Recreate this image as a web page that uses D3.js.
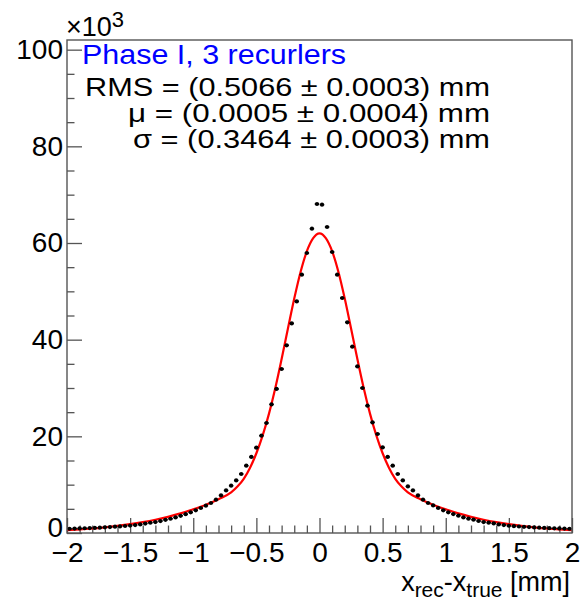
<!DOCTYPE html>
<html>
<head>
<meta charset="utf-8">
<script src="https://cdnjs.cloudflare.com/ajax/libs/d3/7.8.5/d3.min.js"></script>
<style>
body { margin: 0; background: #fff; }
text { font-family: "Liberation Sans", Arial, Helvetica, sans-serif; }
</style>
</head>
<body>
<div id="chart"></div>
<script>
// histogram: 100 bins over [-2, 2], counts in units of 10^3
const binLow = -2;
const binWidth = 0.04;
const counts = [
    0.88, 0.92, 0.95, 0.98, 1.02, 1.06, 1.11, 1.17, 1.23, 1.30,
    1.37, 1.45, 1.53, 1.65, 1.78, 1.96, 2.12, 2.27, 2.47, 2.72,
    2.95, 3.22, 3.56, 3.90, 4.27, 4.70,
    5.17, 5.65, 6.21, 6.89, 7.78, 8.81, 9.79, 10.88, 12.21, 13.93,
    15.73, 17.65, 20.13, 22.76, 26.61, 29.80, 33.93, 38.82, 43.37, 47.92,
    53.44, 57.93, 62.96, 68.07,
    67.93, 63.31, 58.14, 53.44, 48.62, 43.58, 38.55, 34.47, 30.00, 26.34,
    22.88, 20.48, 17.71, 15.73, 13.93, 12.21, 10.88, 9.64, 8.81, 7.78,
    6.89, 6.21, 5.71, 5.17,
    4.70, 4.27, 3.92, 3.58, 3.23, 2.96, 2.75, 2.48, 2.27, 2.13,
    1.99, 1.78, 1.65, 1.50, 1.42, 1.35, 1.28, 1.22, 1.16, 1.10,
    1.05, 1.00, 0.97, 0.94, 0.91, 0.88
];

// fitted curve
const fitX = [-2, -1.9, -1.8, -1.7, -1.6, -1.5, -1.4, -1.3, -1.2, -1.1, -1.0, -0.9, -0.8, -0.7,
    -0.65, -0.6, -0.55, -0.5, -0.45, -0.4, -0.35, -0.3, -0.25, -0.2, -0.15, -0.1, -0.05, 0,
    0.05, 0.1, 0.15, 0.2, 0.25, 0.3, 0.35, 0.4, 0.45, 0.5, 0.55, 0.6, 0.65,
    0.7, 0.8, 0.9, 1.0, 1.1, 1.2, 1.3, 1.4, 1.5, 1.6, 1.7, 1.8, 1.9, 2];
const fitY = [0.57, 0.73, 0.93, 1.18, 1.48, 1.83, 2.25, 2.75, 3.35, 4.05, 4.9, 5.85, 7.0, 8.4,
    9.6, 11.2, 13.5, 16.5, 20.2, 24.7, 30.0, 36.0, 42.3, 48.5, 54.0, 58.3, 61.0, 62.0,
    61.0, 58.3, 54.0, 48.5, 42.3, 36.0, 30.0, 24.7, 20.2, 16.5, 13.5, 11.2, 9.6,
    8.4, 7.0, 5.85, 4.9, 4.05, 3.35, 2.75, 2.25, 1.83, 1.48, 1.18, 0.93, 0.73, 0.57];

const xMajor = [-2, -1.5, -1, -0.5, 0, 0.5, 1, 1.5, 2];
const xLabels = ['\u22122', '\u22121.5', '\u22121', '\u22120.5', '0', '0.5', '1', '1.5', '2'];
const yMajor = [0, 20, 40, 60, 80, 100];
const yLabels = ['0', '20', '40', '60', '80', '100'];

const title = 'Phase I, 3 recurlers';
const statLines = [
    'RMS = (0.5066 \u00b1 0.0003) mm',
    '\u03bc = (0.0005 \u00b1 0.0004) mm',
    '\u03c3 = (0.3464 \u00b1 0.0003) mm'
];
const statWidths = [405, 362, 357];

const width = 580, height = 600;
const margin = { top: 40, right: 8, bottom: 67, left: 67 };
const iw = width - margin.left - margin.right;
const ih = height - margin.top - margin.bottom;

const svg = d3.select('#chart').append('svg')
    .attr('width', width)
    .attr('height', height);

const g = svg.append('g')
    .attr('transform', `translate(${margin.left},${margin.top})`);

const x = d3.scaleLinear().domain([-2, 2]).range([0, iw]);
const y = d3.scaleLinear().domain([0, 102]).range([ih, 0]);

g.append('clipPath').attr('id', 'frame')
    .append('rect').attr('width', iw).attr('height', ih);

// minor ticks
const xMinor = x.ticks(40).filter(v => !xMajor.some(m => Math.abs(m - v) < 1e-6));
const yMinor = d3.range(0, 101, 5).filter(v => v % 20 !== 0);

const axisColor = '#555';

function styleAxis(sel) {
    sel.select('.domain').remove();
    sel.selectAll('line').attr('stroke', axisColor).attr('stroke-width', 1.3);
}

g.append('g').attr('transform', `translate(0,${ih})`)
    .call(d3.axisBottom(x).tickValues(xMinor).tickSize(-7.5).tickFormat(''))
    .call(styleAxis);

g.append('g').attr('transform', `translate(0,${ih})`)
    .call(d3.axisBottom(x).tickValues(xMajor).tickSize(-15).tickPadding(9)
        .tickFormat((d, i) => xLabels[i]))
    .call(styleAxis)
    .call(a => a.selectAll('text')
        .attr('font-size', 28)
        .attr('fill', '#000')
        .attr('font-family', '"Liberation Sans", Arial, sans-serif'));

g.append('g')
    .call(d3.axisLeft(y).tickValues(yMinor).tickSize(-7.5).tickFormat(''))
    .call(styleAxis);

g.append('g')
    .call(d3.axisLeft(y).tickValues(yMajor).tickSize(-15).tickPadding(4)
        .tickFormat((d, i) => yLabels[i]))
    .call(styleAxis)
    .call(a => a.selectAll('text')
        .attr('font-size', 28)
        .attr('fill', '#000')
        .attr('font-family', '"Liberation Sans", Arial, sans-serif'))
    .call(a => a.selectAll('.tick').filter(d => d === 0).select('text').attr('dy', '0.12em'));

// fit curve
const fitData = fitX.map((v, i) => [v, fitY[i]]);
const line = d3.line()
    .x(d => x(d[0]))
    .y(d => y(d[1]))
    .curve(d3.curveMonotoneX);

g.append('path')
    .datum(fitData)
    .attr('clip-path', 'url(#frame)')
    .attr('d', line)
    .attr('fill', 'none')
    .attr('stroke', '#ff0000')
    .attr('stroke-width', 2.2);

// data points with horizontal bin-width bars
const bins = counts.map((c, i) => ({
    lo: binLow + i * binWidth,
    mid: binLow + (i + 0.5) * binWidth,
    hi: binLow + (i + 1) * binWidth,
    v: c
}));

const pts = g.append('g');
pts.selectAll('line')
    .data(bins)
    .enter().append('line')
    .attr('x1', d => x(d.lo) + 0.3)
    .attr('x2', d => x(d.hi) - 0.3)
    .attr('y1', d => y(d.v))
    .attr('y2', d => y(d.v))
    .attr('stroke', '#000')
    .attr('stroke-width', 1.5);

pts.selectAll('circle')
    .data(bins)
    .enter().append('circle')
    .attr('cx', d => x(d.mid))
    .attr('cy', d => y(d.v))
    .attr('r', 2.1)
    .attr('fill', '#000');

// frame
g.append('rect')
    .attr('width', iw)
    .attr('height', ih)
    .attr('fill', 'none')
    .attr('stroke', axisColor)
    .attr('stroke-width', 1.4);

// x10^3 exponent
const expo = svg.append('text')
    .attr('x', 66)
    .attr('y', 36)
    .style('font-size', '27px')
    .attr('fill', '#000');
expo.append('tspan').text('\u00d710');
expo.append('tspan').attr('dy', -9).style('font-size', '22px').text('3');

// title & stats
svg.append('text')
    .attr('x', 82)
    .attr('y', 64)
    .attr('font-size', 28)
    .attr('fill', '#0000ff')
    .attr('textLength', 264)
    .attr('lengthAdjust', 'spacingAndGlyphs')
    .text(title);

const statBase = [96, 122, 148];
statLines.forEach((t, i) => {
    svg.append('text')
        .attr('x', 490)
        .attr('y', statBase[i])
        .attr('text-anchor', 'end')
        .attr('font-size', 25)
        .attr('fill', '#000')
        .attr('textLength', statWidths[i])
        .attr('lengthAdjust', 'spacingAndGlyphs')
        .text(t);
});

// x axis title
const xt = svg.append('text')
    .attr('x', 570)
    .attr('y', 591)
    .attr('text-anchor', 'end')
    .style('font-size', '27px')
    .attr('fill', '#000');
xt.append('tspan').text('x');
xt.append('tspan').style('font-size', '21px').attr('dy', 6).text('rec');
xt.append('tspan').attr('dy', -6).text('-x');
xt.append('tspan').style('font-size', '21px').attr('dy', 6).text('true');
xt.append('tspan').attr('dy', -6).text(' [mm]');
</script>
</body>
</html>
